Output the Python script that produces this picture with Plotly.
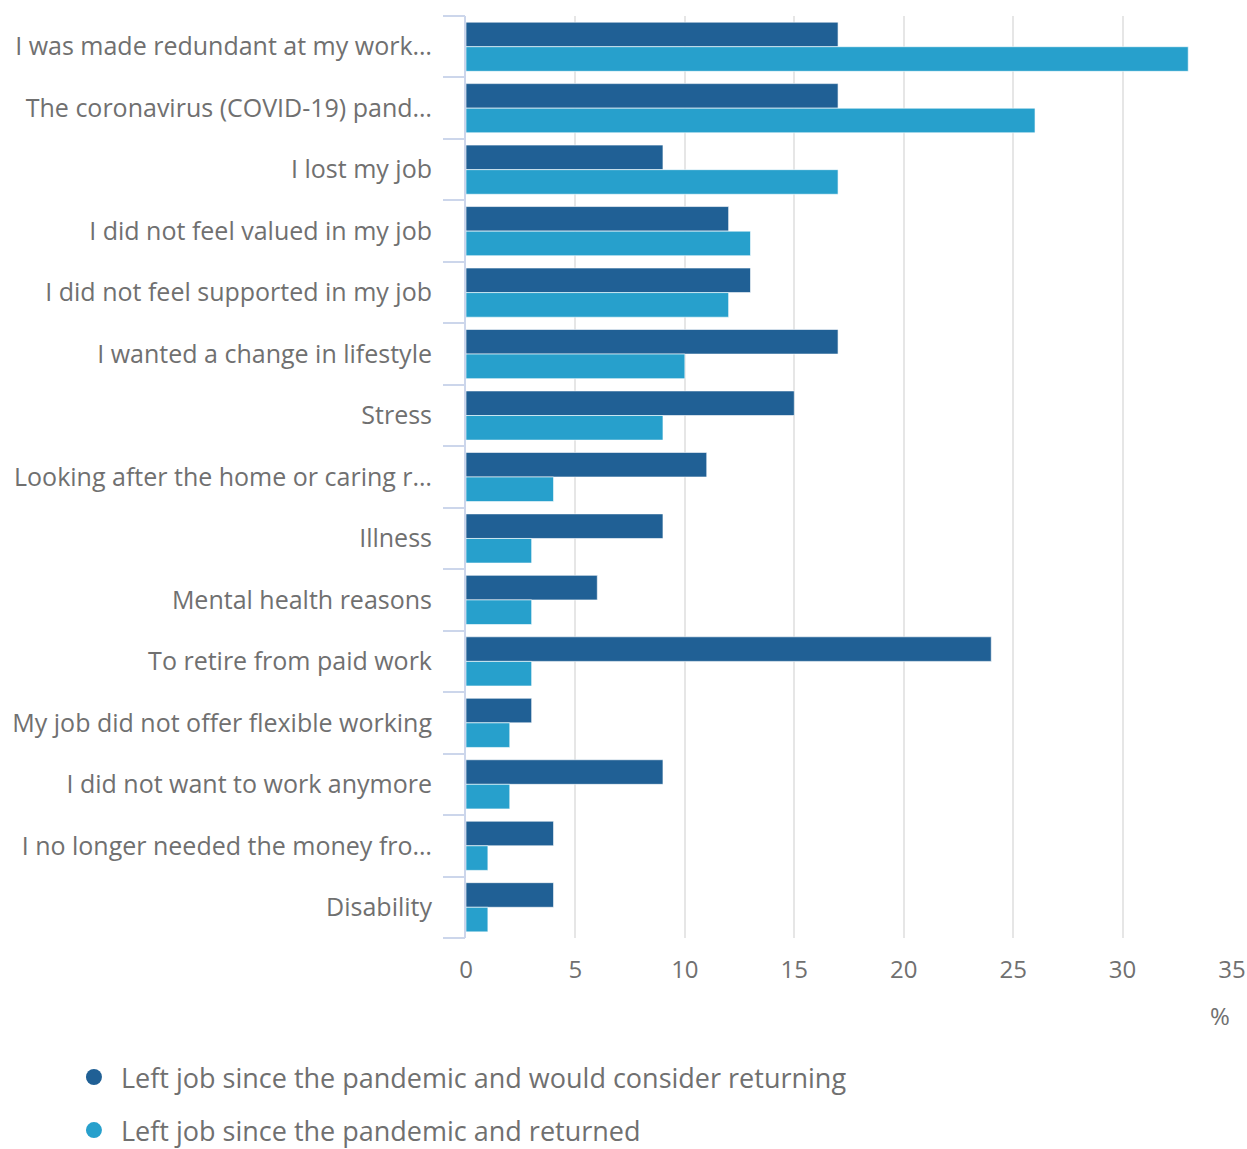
import plotly.graph_objects as go

# Reasons for leaving a job (%)
reasons = [
    "I was made redundant at my work…",
    "The coronavirus (COVID-19) pand…",
    "I lost my job",
    "I did not feel valued in my job",
    "I did not feel supported in my job",
    "I wanted a change in lifestyle",
    "Stress",
    "Looking after the home or caring r…",
    "Illness",
    "Mental health reasons",
    "To retire from paid work",
    "My job did not offer flexible working",
    "I did not want to work anymore",
    "I no longer needed the money fro…",
    "Disability",
]
would_return = [17, 17, 9, 12, 13, 17, 15, 11, 9, 6, 24, 3, 9, 4, 4]
returned = [33, 26, 17, 13, 12, 10, 9, 4, 3, 3, 3, 2, 2, 1, 1]

series_names = [
    "Left job since the pandemic and would consider returning",
    "Left job since the pandemic and returned",
]
x_ticks = [0, 5, 10, 15, 20, 25, 30, 35]

DARK = '#206095'
LIGHT = '#27a0cc'
TEXT = '#707070'
AXIS = '#ccd6eb'

fig = go.Figure()

for name, vals, col in [(series_names[0], would_return, DARK),
                        (series_names[1], returned, LIGHT)]:
    fig.add_trace(go.Bar(
        y=reasons, x=vals, orientation='h', name=name,
        marker=dict(color=col, line=dict(color='rgba(255,255,255,0.6)', width=1)),
        showlegend=False,
        hovertemplate='%{y}: %{x}%<extra></extra>'
    ))
    # legend entry with round marker
    fig.add_trace(go.Scatter(
        x=[None], y=[None], mode='markers', name=name,
        marker=dict(color=col, size=20, symbol='circle'),
        legendgroup=name
    ))

# invisible trace so the boundary-tick axis gets drawn
fig.add_trace(go.Scatter(x=[None], y=[None], yaxis='y2', showlegend=False,
                         hoverinfo='skip'))

fig.update_layout(
    width=1247, height=1149,
    margin=dict(l=466, r=15, t=16, b=211, autoexpand=False),
    paper_bgcolor='white', plot_bgcolor='white',
    font=dict(family='Open Sans', color=TEXT, size=24),
    barmode='group', bargap=0.2, bargroupgap=0,
    xaxis=dict(range=[0, 35], tickvals=x_ticks, showgrid=True,
               gridcolor='#e6e6e6', gridwidth=2, zeroline=False,
               ticks='outside', ticklen=10, tickcolor='rgba(0,0,0,0)',
               tickfont=dict(size=24, color=TEXT), fixedrange=True,
               automargin=False),
    yaxis=dict(categoryorder='array', categoryarray=reasons,
               autorange='reversed', showgrid=False, zeroline=False,
               showline=True, linecolor=AXIS, linewidth=2,
               ticks='outside', ticklen=27, tickcolor='rgba(0,0,0,0)',
               tickfont=dict(size=25, color=TEXT), automargin=False),
    yaxis2=dict(overlaying='y', range=[len(reasons) - 0.5, -0.5],
                tickvals=[i - 0.5 for i in range(len(reasons) + 1)],
                ticks='outside', ticklen=22, tickcolor=AXIS, tickwidth=2,
                showticklabels=False, showgrid=False, zeroline=False,
                side='left', showline=False, automargin=False),
    legend=dict(xref='container', yref='container', x=0.0537, y=0.0836,
                xanchor='left', yanchor='top',
                font=dict(size=27, color=TEXT), tracegroupgap=15,
                itemsizing='trace', itemwidth=44),
    annotations=[dict(text='%', xref='paper', yref='paper', x=1, y=-0.064,
                      xanchor='right', yanchor='top', showarrow=False,
                      font=dict(size=24, color=TEXT))],
)

# drop the default 8px page margin so the figure sits at the window origin
fig.write_html("out.html", config={'displayModeBar': False},
               post_script="document.body.style.margin='0';")
